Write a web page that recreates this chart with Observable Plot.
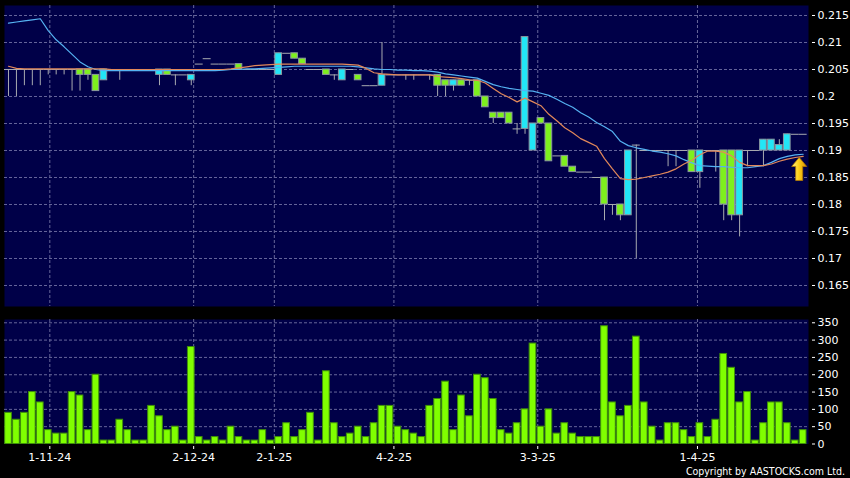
<!DOCTYPE html>
<html><head><meta charset="utf-8">
<script src="https://cdn.jsdelivr.net/npm/d3@7"></script>
<script src="https://cdn.jsdelivr.net/npm/@observablehq/plot@0.6"></script>
<style>
html,body{margin:0;padding:0;background:#000;}
#wrap{position:relative;width:850px;height:478px;background:#000;overflow:hidden;}
#wrap svg{display:block;}
#copy{position:absolute;right:5px;top:466px;color:#fff;font:10.5px/10.5px "DejaVu Sans Condensed","DejaVu Sans",sans-serif;white-space:nowrap;}
</style></head>
<body><div id="wrap"></div>
<script>
// ---- data (one entry per trading session) ----
const opens = [.205,.205,.205,.205,.205,.205,.205,.205,.205,.205,.205,.204,.203,.205,.205,.205,.205,.205,.205,.204,
.205,.204,.204,.203,.206,.207,.206,.206,.206,.206,.205,.205,.205,.205,.204,.208,.208,.207,.205,.205,
.205,.204,.203,.205,.204,.202,.202,.202,.204,.204,.204,.204,.204,.204,.204,.203,.202,.203,.203,.203,
.200,.197,.197,.197,.194,.194,.190,.196,.195,.189,.189,.187,.186,.186,.185,.185,.180,.180,.178,.191,
.190,.190,.190,.190,.190,.190,.190,.186,.190,.190,.190,.190,.178,.190,.190,.190,.190,.190,.190,.193,.193];
const highs = [.205,.205,.205,.205,.205,.205,.205,.205,.205,.205,.205,.204,.205,.205,.205,.205,.205,.205,.205,.205,
.205,.204,.204,.204,.206,.207,.206,.206,.206,.206,.205,.205,.205,.205,.208,.208,.208,.207,.205,.205,
.205,.204,.205,.205,.204,.202,.202,.210,.204,.204,.204,.204,.204,.204,.204,.203,.203,.203,.203,.203,
.200,.197,.197,.197,.195,.211,.195,.196,.195,.189,.189,.187,.186,.186,.185,.185,.180,.180,.190,.191,
.190,.190,.190,.190,.190,.190,.190,.190,.190,.190,.190,.190,.190,.190,.190,.192,.192,.192,.193,.193,.193];
const lows = [.200,.200,.202,.202,.202,.204,.204,.204,.201,.201,.203,.201,.203,.205,.203,.205,.205,.205,.205,.202,
.204,.202,.204,.202,.206,.207,.206,.206,.206,.205,.205,.205,.205,.205,.204,.208,.207,.206,.205,.205,
.204,.203,.203,.205,.203,.202,.202,.202,.204,.204,.203,.203,.204,.203,.200,.200,.201,.202,.202,.200,
.198,.195,.196,.195,.193,.193,.190,.195,.188,.189,.187,.186,.186,.186,.185,.177,.178,.177,.178,.170,
.190,.190,.190,.187,.187,.190,.186,.183,.190,.186,.177,.177,.174,.187,.190,.187,.190,.190,.190,.193,.193];
const closes = [.205,.205,.205,.205,.205,.205,.205,.205,.205,.204,.204,.201,.205,.205,.205,.205,.205,.205,.205,.205,
.204,.204,.204,.204,.206,.207,.206,.206,.206,.205,.205,.205,.205,.205,.208,.208,.207,.206,.205,.205,
.204,.204,.205,.205,.203,.202,.202,.204,.204,.204,.204,.204,.204,.204,.202,.202,.203,.202,.203,.200,
.198,.196,.196,.195,.194,.211,.195,.195,.188,.189,.187,.186,.186,.186,.185,.180,.180,.178,.190,.191,
.190,.190,.190,.190,.190,.190,.186,.190,.190,.190,.180,.178,.190,.190,.190,.192,.192,.191,.193,.193,.193];
const volumes = [90,70,90,150,120,40,30,30,150,140,40,200,10,10,70,40,10,10,110,80,
40,50,10,280,20,10,20,10,50,20,10,10,40,10,20,60,20,40,90,10,
210,60,20,30,50,20,60,110,110,50,40,30,20,110,130,180,40,140,80,200,
190,130,40,30,60,100,290,50,100,30,60,30,20,20,20,340,120,80,110,310,
120,50,10,60,60,40,20,60,20,70,260,220,120,150,10,60,120,120,60,10,40];
const maShort = [.2056,.2052,.2051,.2051,.2051,.2051,.2051,.2051,.2051,.2051,.2051,.2051,.2051,.2050,.2050,.2050,.2050,.2050,.2050,.2050,
.2050,.2050,.2050,.2050,.2050,.2050,.2050,.2050,.2051,.2053,.2055,.2057,.2058,.2059,.2060,.2060,.2060,.2060,.2060,.2060,
.2060,.2060,.2060,.2059,.2058,.2052,.2044,.2042,.2041,.2040,.2040,.2040,.2040,.2040,.2037,.2036,.2035,.2033,.2031,.2030,
.2025,.2015,.2005,.1998,.1990,.1997,.1990,.1983,.1967,.1955,.1942,.1933,.1922,.1915,.1908,.1885,.1866,.1848,.1846,.1847,
.1850,.1853,.1856,.1860,.1866,.1875,.1882,.1892,.1899,.1899,.1897,.1890,.1878,.1872,.1872,.1872,.1875,.1880,.1884,.1887,.1889];
const maLong = [.2136,.2138,.2140,.2142,.2144,.2122,.2105,.2092,.2078,.2064,.2055,.2050,.2048,.2048,.2048,.2048,.2048,.2048,.2048,.2048,
.2048,.2048,.2048,.2048,.2048,.2048,.2048,.2049,.2050,.2050,.2051,.2051,.2052,.2053,.2054,.2055,.2056,.2056,.2056,.2056,
.2056,.2056,.2056,.2056,.2055,.2053,.2051,.2050,.2050,.2049,.2049,.2048,.2048,.2047,.2045,.2042,.2040,.2038,.2036,.2034,
.2028,.2022,.2018,.2015,.2013,.2011,.2010,.2006,.2002,.1995,.1987,.1980,.1970,.1962,.1952,.1944,.1935,.1917,.1909,.1905,
.1902,.1899,.1897,.1894,.1890,.1883,.1877,.1872,.1871,.1870,.1870,.1869,.1868,.1868,.1870,.1872,.1878,.1885,.1889,.1892,.1893];
const priceTicks = [0.165,0.17,0.175,0.18,0.185,0.19,0.195,0.2,0.205,0.21,0.215];
const volumeTicks = [0,50,100,150,200,250,300,350];
const dateTickIndex = [5.2,23.3,33.45,48.5,66.6,86.7];
const dateTickLabels = ["1-11-24","2-12-24","2-1-25","4-2-25","3-3-25","1-4-25"];

// ---- styling ----
const NAVY = "#000048", GRID = "#66669a", WICK = "#a8aab0", EDGE = "#8c98a0";
const CYAN = "#22e6f6", GREEN = "#7ef01e", LIME = "#80ff00", LIMEEDGE = "#3f8f0a";
const BLUE = "#55b2f2", ORANGE = "#e2885a";
const FONT = "DejaVu Sans";

const bars = opens.map((o, i) => ({i, open: o, high: highs[i], low: lows[i], close: closes[i], vol: volumes[i]}));
const longPts = maLong.map((v, i) => ({i, v}));
const shortPts = maShort.map((v, i) => ({i, v}));
const labelOf = new Map(dateTickIndex.map((t, j) => [t, dateTickLabels[j]]));
const xDomain = [-0.503, 100.67];
const half = 0.42;

const arrowSymbol = {
  draw(ctx) {
    ctx.moveTo(0, 0);
    ctx.lineTo(7.5, 9);
    ctx.lineTo(3.5, 9);
    ctx.lineTo(3.5, 23);
    ctx.lineTo(-3.5, 23);
    ctx.lineTo(-3.5, 9);
    ctx.lineTo(-7.5, 9);
    ctx.closePath();
  }
};
const last = bars.length - 1;

const price = Plot.plot({
  width: 850, height: 311,
  marginTop: 5, marginBottom: 5, marginLeft: 4, marginRight: 42,
  x: {domain: xDomain, axis: null},
  y: {domain: [0.16111, 0.21685], axis: null},
  style: {background: "#000", color: "#fff", fontFamily: FONT, fontSize: "11px"},
  marks: [
    Plot.frame({fill: NAVY}),
    Plot.ruleY(priceTicks, {stroke: GRID, strokeDasharray: "3,2"}),
    Plot.ruleX(dateTickIndex, {stroke: GRID, strokeDasharray: "3,2"}),
    Plot.ruleX(bars.filter(d => d.high > d.low), {x: "i", y1: "low", y2: "high", stroke: WICK}),
    Plot.ruleY(bars.filter(d => d.open === d.close), {y: "close", x1: d => d.i - 0.5, x2: d => d.i + 0.5, stroke: WICK}),
    Plot.rect(bars.filter(d => d.close > d.open), {x1: d => d.i - half, x2: d => d.i + half, y1: "open", y2: "close", fill: CYAN, stroke: EDGE}),
    Plot.rect(bars.filter(d => d.close < d.open), {x1: d => d.i - half, x2: d => d.i + half, y1: "open", y2: "close", fill: GREEN, stroke: EDGE}),
    Plot.line(longPts, {x: "i", y: "v", stroke: BLUE, strokeWidth: 1.2}),
    Plot.line(shortPts, {x: "i", y: "v", stroke: ORANGE, strokeWidth: 1.2}),
    Plot.dot([{i: last, v: maShort[last]}], {x: "i", y: "v", symbol: arrowSymbol, fill: "url(#arrowGrad)", stroke: "#b57a00", strokeWidth: 0.8, dx: -4, dy: 1}),
    Plot.axisY({anchor: "right", label: null, ticks: priceTicks, tickSize: 3, tickPadding: 3, dx: 3, tickFormat: d => String(+d.toFixed(3))})
  ]
});

d3.select(price).insert("defs", ":first-child").html(
  '<linearGradient id="arrowGrad" x1="0" x2="1" y1="0" y2="0">' +
  '<stop offset="0" stop-color="#fff48a"/><stop offset="0.45" stop-color="#ffd21a"/><stop offset="1" stop-color="#d88e00"/></linearGradient>'
);

const volume = Plot.plot({
  width: 850, height: 167,
  marginTop: 8, marginBottom: 34.5, marginLeft: 4, marginRight: 42,
  x: {domain: xDomain, axis: null},
  y: {domain: [0, 359.5], axis: null},
  style: {background: "#000", color: "#fff", fontFamily: FONT, fontSize: "11px"},
  marks: [
    Plot.frame({fill: NAVY}),
    Plot.ruleY(volumeTicks.filter(v => v > 0), {stroke: GRID, strokeDasharray: "3,2"}),
    Plot.ruleX(dateTickIndex, {stroke: GRID, strokeDasharray: "3,2"}),
    Plot.rect(bars, {x1: d => d.i - half, x2: d => d.i + half, y1: 0, y2: "vol", fill: LIME, stroke: LIMEEDGE}),
    Plot.axisY({anchor: "right", label: null, ticks: volumeTicks, tickSize: 3, tickPadding: 3, dx: 3}),
    Plot.axisX({anchor: "bottom", label: null, ticks: dateTickIndex, tickFormat: d => labelOf.get(d), tickSize: 3, tickPadding: 4, dy: 2.5})
  ]
});

const wrap = document.getElementById("wrap");
wrap.appendChild(price);
wrap.appendChild(volume);
const copy = document.createElement("div");
copy.id = "copy";
copy.textContent = "Copyright by AASTOCKS.com Ltd.";
wrap.appendChild(copy);
</script>
</body></html>
